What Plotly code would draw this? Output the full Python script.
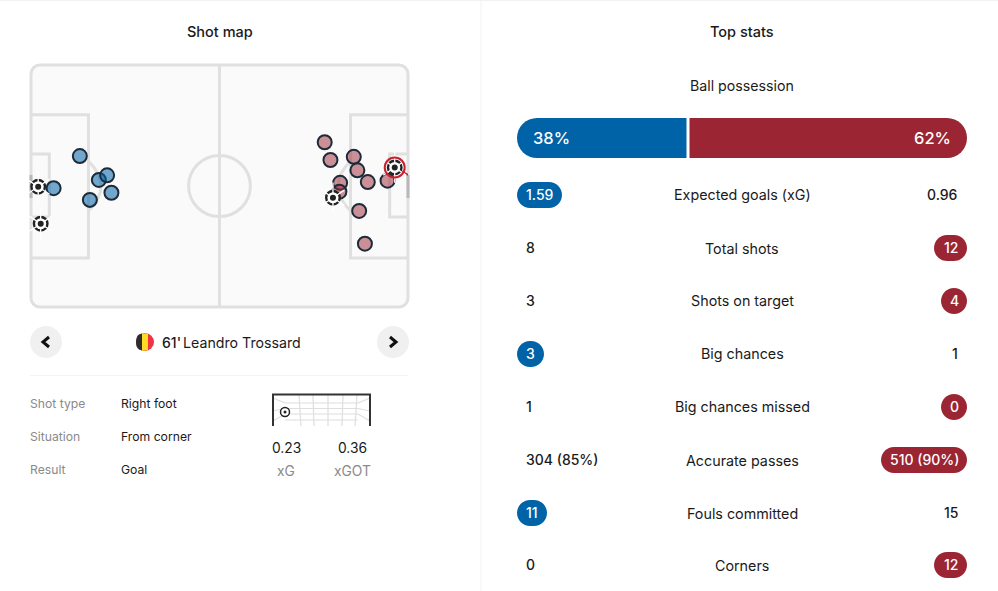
import plotly.graph_objects as go

W, H = 998, 591
FONT = "Inter"
INK = "#1a1a1a"
GREY = "#8a8a8a"
LINE = "#e0e0e0"
BLUE = "#0063a8"
RED = "#9b2533"

# ---- data ----
home_x = [13.6, 18.9, 21.2, 22.4, 16.4, 6.3]
home_y = [25.6, 32.3, 31.0, 35.9, 37.9, 34.6]
home_goal_x = [2.0, 2.7]
home_goal_y = [34.2, 44.6]
away_x = [81.8, 83.4, 89.9, 90.9, 93.8, 99.3, 86.1, 85.9, 91.4, 93.0]
away_y = [21.7, 26.7, 25.8, 29.6, 32.9, 32.5, 33.1, 35.6, 41.0, 50.2]
away_goal_x = [84.1, 101.3]
away_goal_y = [37.3, 28.8]
selected_x = [101.3]
selected_y = [28.8]

possession = [38, 62]

stat_labels = ["Expected goals (xG)", "Total shots", "Shots on target", "Big chances",
               "Big chances missed", "Accurate passes", "Fouls committed", "Corners"]
home_values = ["1.59", "8", "3", "3", "1", "304 (85%)", "11", "0"]
away_values = ["0.96", "12", "4", "1", "0", "510 (90%)", "15", "12"]
home_pill = [True, False, False, True, False, False, True, False]
away_pill = [False, True, True, False, True, True, False, True]
pill_widths = {"1.59": 45, "3": 27, "11": 30, "12": 33, "4": 26, "0": 26, "510 (90%)": 86}
row_y = [195, 248, 301, 354, 407, 460, 513, 565]

detail_labels = ["Shot type", "Situation", "Result"]
detail_values = ["Right foot", "From corner", "Goal"]
detail_y = [403, 436, 469]


def X(p):
    return p / W


def Y(p):
    return 1 - p / H


def P(*pts):
    return " ".join(f"{a}{X(x):.5f},{Y(y):.5f}" for a, x, y in pts)


shapes = []
ann = []


def text(x, y, s, size=14.3, color=INK, anchor="center", weight=400):
    ann.append(dict(x=X(x), y=Y(y), xref="paper", yref="paper", text=s, showarrow=False,
                    xanchor=anchor, yanchor="middle", borderpad=0, borderwidth=0,
                    font=dict(family=FONT, size=size, color=color, weight=weight)))


def rounded(x0, x1, y0, y1, r, fill, line=None):
    k = r * 0.45
    path = (P(("M", x0 + r, y0), ("L", x1 - r, y0)) +
            f" C{X(x1-k):.5f},{Y(y0):.5f} {X(x1):.5f},{Y(y0+k):.5f} {X(x1):.5f},{Y(y0+r):.5f}"
            f" L{X(x1):.5f},{Y(y1-r):.5f}"
            f" C{X(x1):.5f},{Y(y1-k):.5f} {X(x1-k):.5f},{Y(y1):.5f} {X(x1-r):.5f},{Y(y1):.5f}"
            f" L{X(x0+r):.5f},{Y(y1):.5f}"
            f" C{X(x0+k):.5f},{Y(y1):.5f} {X(x0):.5f},{Y(y1-k):.5f} {X(x0):.5f},{Y(y1-r):.5f}"
            f" L{X(x0):.5f},{Y(y0+r):.5f}"
            f" C{X(x0):.5f},{Y(y0+k):.5f} {X(x0+k):.5f},{Y(y0):.5f} {X(x0+r):.5f},{Y(y0):.5f} Z")
    shapes.append(dict(type="path", xref="paper", yref="paper", path=path,
                       fillcolor=fill, line=line or dict(width=0), layer="below"))


def pill(x0, x1, y0, y1, color):
    rounded(x0, x1, y0, y1, (y1 - y0) / 2, color)


def pline(x0, y0, x1, y1, color, width):
    shapes.append(dict(type="line", xref="paper", yref="paper", x0=X(x0), y0=Y(y0), x1=X(x1), y1=Y(y1),
                       line=dict(color=color, width=width), layer="below"))


def circle(cx, cy, r, color):
    shapes.append(dict(type="circle", xref="paper", yref="paper", x0=X(cx - r), x1=X(cx + r),
                       y0=Y(cy - r), y1=Y(cy + r), fillcolor=color, line=dict(width=0), layer="below"))


# ---- page furniture ----
pline(481, 0, 481, 591, "#f2f2f2", 1)
pline(0, 0.5, 998, 0.5, "#f2f2f2", 1)
pline(30, 375.5, 408, 375.5, "#f4f4f4", 1)
text(219.5, 31.5, "Shot map", 14.5, weight=500)
text(742, 31.5, "Top stats", 14.5, weight=500)
text(742, 85.5, "Ball possession", 14.2)

# ---- pitch, in metres on its own axes ----
PITCH = dict(xref="x", yref="y", layer="below")
pl = dict(color=LINE, width=3)
rounded(31, 408, 65, 307, 9, "#fafafa", pl)
shapes.append(dict(type="line", x0=52.5, x1=52.5, y0=0, y1=68, line=pl, **PITCH))
shapes.append(dict(type="circle", x0=52.5 - 8.6, x1=52.5 + 8.6, y0=34 - 8.6, y1=34 + 8.6, line=pl, **PITCH))
for path in ["M0,14 L16,14 L16,54.2 L0,54.2",
             "M105,14 L89,14 L89,54.2 L105,54.2",
             "M0,25 L5.1,25 L5.1,42.7 L0,42.7",
             "M105,25 L99.9,25 L99.9,42.7 L105,42.7",
             "M16,27 Q23,34 16,41",
             "M89,27 Q82,34 89,41"]:
    shapes.append(dict(type="path", path=path, line=pl, **PITCH))
for px in (31, 408):
    pline(px, 175, px, 198, "#b8b8b8", 3)

DARK = "#1d2b38"
traces = []


def dots(x, y, fill, name):
    traces.append(go.Scatter(x=x, y=y, mode="markers", name=name, xaxis="x", yaxis="y", showlegend=False,
                             hoverinfo="skip", cliponaxis=False,
                             marker=dict(size=14, color=fill, line=dict(color=DARK, width=2))))


def balls(x, y, name):
    common = dict(x=x, y=y, mode="markers", name=name, xaxis="x", yaxis="y", showlegend=False,
                  hoverinfo="skip", cliponaxis=False)
    traces.append(go.Scatter(marker=dict(size=13.5, color="white", line=dict(color="#222222", width=2.4)), **common))
    for sym in ("y-up-open", "y-down-open"):
        traces.append(go.Scatter(marker=dict(size=19, symbol=sym, color="white",
                                             line=dict(color="white", width=1.3)), **common))
    traces.append(go.Scatter(marker=dict(size=6, color="#222222"), **common))


dots(home_x, home_y, "rgba(0,99,168,0.55)", "Home shots")
dots(away_x, away_y, "rgba(155,37,51,0.5)", "Away shots")
balls(home_goal_x, home_goal_y, "Home goals")
# line from selected shot toward goal
traces.append(go.Scatter(x=[selected_x[0], 105], y=[selected_y[0], 30.9], mode="lines", xaxis="x", yaxis="y",
                         showlegend=False, hoverinfo="skip", line=dict(color="#c8202f", width=2)))
balls(away_goal_x, away_goal_y, "Away goals")
traces.append(go.Scatter(x=selected_x, y=selected_y, mode="markers", xaxis="x", yaxis="y", showlegend=False,
                         hoverinfo="skip",
                         marker=dict(size=20, color="rgba(0,0,0,0)", line=dict(color="#c8202f", width=2))))

# ---- possession bar: rounded bars, with square half-length bars squaring off the inner ends ----
bar = dict(y=[0], orientation="h", xaxis="x2", yaxis="y2", showlegend=False, hoverinfo="skip", cliponaxis=False)
traces.append(go.Bar(x=[possession[0]], base=[0], marker=dict(color=BLUE, cornerradius=20, line=dict(width=0)), **bar))
traces.append(go.Bar(x=[possession[1]], base=[possession[0]], marker=dict(color=RED, cornerradius=20, line=dict(width=0)), **bar))
traces.append(go.Bar(x=[possession[0] / 2], base=[possession[0] / 2], marker=dict(color=BLUE, line=dict(width=0)), **bar))
traces.append(go.Bar(x=[possession[1] / 2], base=[possession[0]], marker=dict(color=RED, line=dict(width=0)), **bar))
shapes.append(dict(type="line", xref="x2", yref="y2", x0=possession[0], x1=possession[0], y0=-0.5, y1=0.5,
                   line=dict(color="white", width=3), layer="above"))
text(551.5, 138, f"{possession[0]}%", 16.5, "white", weight=500)
text(932.5, 138, f"{possession[1]}%", 16.5, "white", weight=500)

# ---- stat rows ----
for lab, hv, av, hp, ap, y in zip(stat_labels, home_values, away_values, home_pill, away_pill, row_y):
    text(742, y, lab)
    if hp:
        w = pill_widths[hv]
        pill(517, 517 + w, y - 13, y + 13, BLUE)
        text(517 + w / 2, y - 0.5, hv, 14, "white", weight=500)
    else:
        text(526, y - 0.5, hv, 14, anchor="left", weight=500)
    if ap:
        w = pill_widths[av]
        pill(967 - w, 967, y - 13, y + 13, RED)
        text(967 - w / 2, y - 0.5, av, 14, "white", weight=500)
    else:
        text(958, y - 0.5, av, 14, anchor="right", weight=500)

# ---- shot navigator ----
circle(46, 342, 16, "#f0f0f0")
circle(393, 342, 16, "#f0f0f0")
for cx, d in ((46, -1), (393, 1)):
    shapes.append(dict(type="path", xref="paper", yref="paper",
                       path=P(("M", cx - d * 3, 337), ("L", cx + d * 3, 342), ("L", cx - d * 3, 347)),
                       line=dict(color="#111111", width=3), layer="below"))
# Belgian flag
circle(145, 342, 9, "#ef3340")
shapes.append(dict(type="path", xref="paper", yref="paper", layer="below", line=dict(width=0), fillcolor="#fdda24",
                   path=P(("M", 142, 333.5), ("L", 148, 333.5), ("L", 148, 350.5), ("L", 142, 350.5)) + " Z"))
shapes.append(dict(type="path", xref="paper", yref="paper", layer="below", line=dict(width=0), fillcolor="#2d2d2d",
                   path=P(("M", 142, 333.5), ("Q", 136, 334), ("", 136, 342), ("Q", 136, 350), ("", 142, 350.5)) + " Z"))
text(162, 342, "61'", 14, anchor="left", weight=500)
text(183, 342, "Leandro Trossard", 14.2, anchor="left")

for lab, val, y in zip(detail_labels, detail_values, detail_y):
    text(30, y, lab, 12.2, GREY, anchor="left")
    text(121, y, val, 12.2, anchor="left")

# ---- goal-frame inset ----
NET = "#dedede"
for x0, x1 in ((299, 301), (313, 314), (328, 328), (343, 342), (357, 355)):
    pline(x0, 395, x1, 426, NET, 1.2)
for y in (403, 408.5, 414, 420):
    pline(285, y, 358, y, NET, 1.2)
pline(273, 398, 285, 403, NET, 1.2)
pline(370, 398, 358, 403, NET, 1.2)
pline(273, 411, 285, 408.5, NET, 1.2)
pline(370, 411, 358, 408.5, NET, 1.2)
pline(273, 421, 285, 414, NET, 1.2)
pline(370, 421, 358, 414, NET, 1.2)
shapes.append(dict(type="path", xref="paper", yref="paper", layer="below",
                   path=P(("M", 273, 426), ("L", 273, 394.5), ("L", 370, 394.5), ("L", 370, 426)),
                   line=dict(color="#333333", width=2)))
shapes.append(dict(type="circle", xref="paper", yref="paper", x0=X(280.5), x1=X(289.5), y0=Y(407.5), y1=Y(416.5),
                   fillcolor="white", line=dict(color="#222222", width=1.5), layer="below"))
circle(285, 412, 1.5, "#222222")
text(286, 447.5, "0.23", 13.8)
text(352, 447.5, "0.36", 13.8)
text(286, 470.5, "xG", 13.8, GREY)
text(352, 470.5, "xGOT", 13.8, GREY)

fig = go.Figure(traces)
hide = dict(visible=False, fixedrange=True)
fig.update_layout(
    width=W, height=H, margin=dict(l=0, r=0, t=0, b=0), autosize=False,
    paper_bgcolor="white", plot_bgcolor="rgba(0,0,0,0)",
    barmode="overlay", bargap=0, showlegend=False, dragmode=False,
    xaxis=dict(domain=[X(31), X(408)], range=[0, 105], **hide),
    yaxis=dict(domain=[Y(307), Y(65)], range=[68, 0], **hide),
    xaxis2=dict(domain=[X(517), X(967)], range=[0, 100], anchor="y2", **hide),
    yaxis2=dict(domain=[Y(158), Y(118)], range=[-0.5, 0.5], anchor="x2", **hide),
    shapes=shapes, annotations=ann,
)
post = ("document.body.style.margin='0';document.body.style.overflow='hidden';"
        "var s=document.createElement('style');"
        "s.textContent='.bars path{shape-rendering:geometricPrecision !important}';"
        "document.head.appendChild(s);")
fig.write_html("out.html", config=dict(displayModeBar=False), post_script=post)
